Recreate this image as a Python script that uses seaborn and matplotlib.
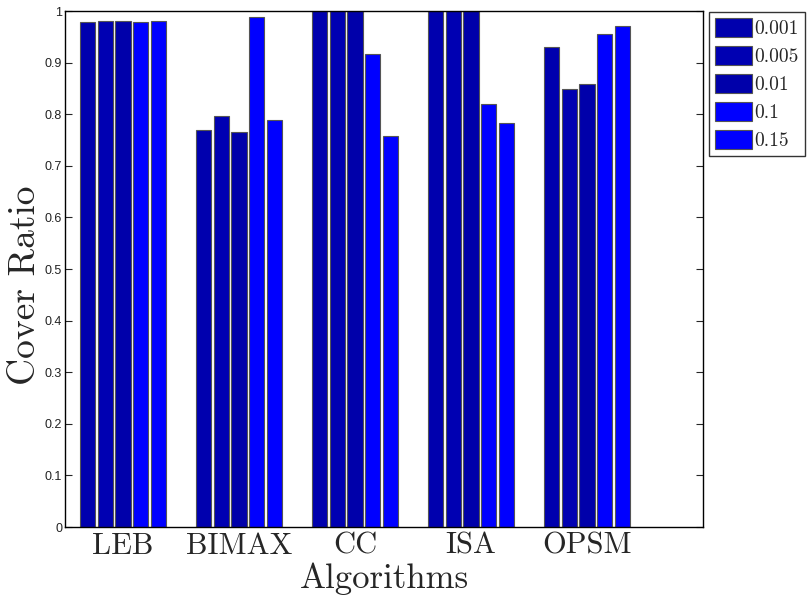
import matplotlib
matplotlib.use("Agg")
import matplotlib.pyplot as plt
import seaborn as sns
import pandas as pd

algorithms = ["LEB", "BIMAX", "CC", "ISA", "OPSM"]
thresholds = ["0.001", "0.005", "0.01", "0.1", "0.15"]
v_0001 = [0.979, 0.770, 1.0, 1.0, 0.930]
v_0005 = [0.981, 0.797, 1.0, 1.0, 0.848]
v_001 = [0.981, 0.766, 1.0, 1.0, 0.858]
v_01 = [0.979, 0.988, 0.917, 0.819, 0.955]
v_015 = [0.981, 0.789, 0.758, 0.782, 0.970]
y_ticks = [0, 0.1, 0.2, 0.3, 0.4, 0.5, 0.6, 0.7, 0.8, 0.9, 1]
y_ticklabels = ["0", "0.1", "0.2", "0.3", "0.4", "0.5", "0.6", "0.7", "0.8", "0.9", "1"]

series = [v_0001, v_0005, v_001, v_01, v_015]
rows = []
for t, vals in zip(thresholds, series):
    for a, v in zip(algorithms, vals):
        rows.append({"Algorithm": a, "Threshold": t, "Cover Ratio": v})
df = pd.DataFrame(rows)

colors = ["#0000AE", "#0000B2", "#0000AA", "#0000FF", "#0000FF"]

sns.set_style("white")
fig = plt.figure(figsize=(8.12, 6.02), dpi=100)
ax = fig.add_axes([65 / 812, (602 - 527) / 602, (703 - 65) / 812, (527 - 11) / 602])

sns.barplot(data=df, x="Algorithm", y="Cover Ratio", hue="Threshold",
            order=algorithms, hue_order=thresholds, palette=colors,
            width=0.77, gap=0.15, edgecolor="#555555", linewidth=0.8,
            saturation=1, errorbar=None, ax=ax, legend=True)

ax.set_xlim(-0.5, 5.0)
ax.set_ylim(0, 1)
ax.set_yticks(y_ticks)
ax.set_yticklabels(y_ticklabels, fontfamily="Liberation Sans", fontsize=9, color="#222222")
ax.set_xticks(range(len(algorithms)))
ax.set_xticklabels(algorithms, fontfamily="cmr10", fontsize=22)
ax.tick_params(axis="y", direction="in", length=5, left=True, right=True, pad=2)
ax.tick_params(axis="x", direction="in", length=0, pad=4)
for s in ax.spines.values():
    s.set_visible(True)
    s.set_color("black")
    s.set_linewidth(1.0)

ax.set_xlabel("Algorithms", fontfamily="cmr10", fontsize=25, labelpad=2)
ax.set_ylabel("Cover Ratio", fontfamily="cmr10", fontsize=27)
ax.yaxis.set_label_coords(-0.036, 0.469)

handles, labels = ax.get_legend_handles_labels()
ax.get_legend().remove()
leg = fig.legend(handles, labels, loc="upper left",
                 bbox_to_anchor=(709 / 812, 1 - 12 / 602),
                 prop={"family": "cmr10", "size": 14},
                 frameon=True, fancybox=False, edgecolor="black",
                 handlelength=1.9, handleheight=1.15, handletextpad=0.15,
                 labelspacing=0.4, borderpad=0.3, borderaxespad=0)
leg.get_frame().set_linewidth(1.0)

fig.savefig("out.png", dpi=100)
